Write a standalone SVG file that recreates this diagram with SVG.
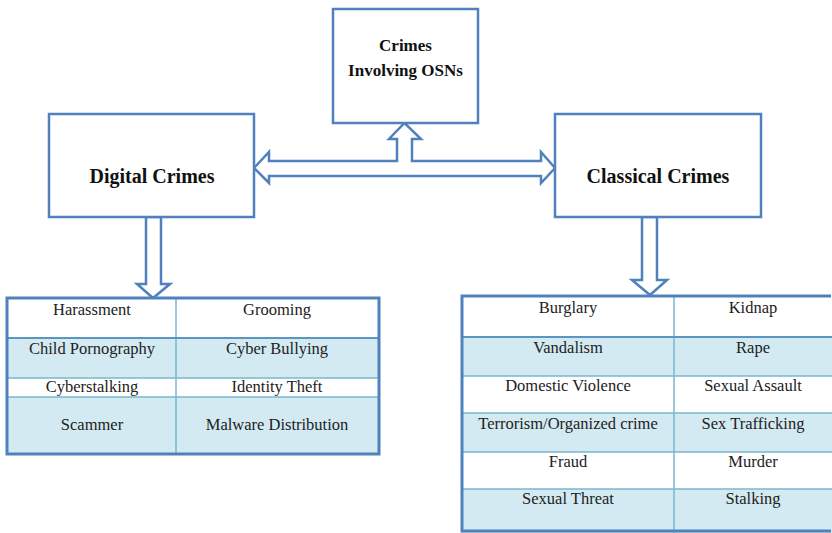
<svg xmlns="http://www.w3.org/2000/svg" width="832" height="533" viewBox="0 0 832 533">
<style>
.box{fill:#fff;stroke:#4f81bd;stroke-width:2.5}
.arr{fill:#fff;stroke:#4f81bd;stroke-width:2.5;stroke-linejoin:miter}
.ttl{font-family:"Liberation Serif","Times New Roman",serif;font-weight:bold;fill:#111;text-anchor:middle}
.cell{font-family:"Liberation Serif","Times New Roman",serif;font-size:16.5px;fill:#222;text-anchor:middle}
.blue{fill:#d3eaf2}
.white{fill:#fff}
.grid{stroke:#7ab8cf;stroke-width:1.5;fill:none}
.outer{fill:none;stroke:#4f81bd;stroke-width:3}
.hdr{fill:none;stroke:#5b95c0;stroke-width:2}
</style>
<rect width="832" height="533" fill="#fff"/>
<g id="connectors">
<polygon class="arr" points="254,168 269,152 269,161 397,161 397,139 389,139 404.5,123 421,139 412,139 412,161 541,161 541,152 555,168 541,183 541,176 269,176 269,183"/>
<polygon class="arr" points="146,217 161,217 161,284 170,284 153,298 137,284 146,284"/>
<polygon class="arr" points="642,217 657,217 657,280 667,280 650,295 632,280 642,280"/>
</g>
<g id="osn">
<rect class="box" x="333" y="9" width="145" height="114"/>
<text class="ttl" x="405.5" y="51" font-size="17">Crimes</text>
<text class="ttl" x="405.5" y="76" font-size="17">Involving OSNs</text>
</g>
<g id="digital">
<rect class="box" x="49" y="114" width="205" height="103"/>
<text class="ttl" x="152" y="183" font-size="20">Digital Crimes</text>
</g>
<g id="classical">
<rect class="box" x="555" y="114" width="206" height="103"/>
<text class="ttl" x="658" y="183" font-size="20">Classical Crimes</text>
</g>
<g id="digital-table">
<rect class="white" x="7" y="298" width="372" height="40"/>
<rect class="blue" x="7" y="338" width="372" height="40"/>
<rect class="white" x="7" y="378" width="372" height="19"/>
<rect class="blue" x="7" y="397" width="372" height="57"/>
<path class="grid" d="M7,378H379M7,397H379M176,298V454"/>
<path class="hdr" d="M7,338H379"/>
<rect class="outer" x="7" y="298" width="372" height="156"/>
<text class="cell" x="92" y="315">Harassment</text>
<text class="cell" x="277" y="315">Grooming</text>
<text class="cell" x="92" y="354">Child Pornography</text>
<text class="cell" x="277" y="354">Cyber Bullying</text>
<text class="cell" x="92" y="392">Cyberstalking</text>
<text class="cell" x="277" y="392">Identity Theft</text>
<text class="cell" x="92" y="430">Scammer</text>
<text class="cell" x="277" y="430">Malware Distribution</text>
</g>
<g id="classical-table">
<rect class="white" x="462" y="296" width="372" height="41"/>
<rect class="blue" x="462" y="337" width="372" height="39"/>
<rect class="white" x="462" y="376" width="372" height="37"/>
<rect class="blue" x="462" y="413" width="372" height="39"/>
<rect class="white" x="462" y="452" width="372" height="37"/>
<rect class="blue" x="462" y="489" width="372" height="44"/>
<path class="grid" d="M462,376H834M462,413H834M462,452H834M462,489H834M674,296V533"/>
<path class="hdr" d="M462,337H834"/>
<path class="outer" d="M831,296H462V531H831"/>
<text class="cell" x="568" y="313">Burglary</text>
<text class="cell" x="753" y="313">Kidnap</text>
<text class="cell" x="568" y="353">Vandalism</text>
<text class="cell" x="753" y="353">Rape</text>
<text class="cell" x="568" y="391">Domestic Violence</text>
<text class="cell" x="753" y="391">Sexual Assault</text>
<text class="cell" x="568" y="429">Terrorism/Organized crime</text>
<text class="cell" x="753" y="429">Sex Trafficking</text>
<text class="cell" x="568" y="467">Fraud</text>
<text class="cell" x="753" y="467">Murder</text>
<text class="cell" x="568" y="504">Sexual Threat</text>
<text class="cell" x="753" y="504">Stalking</text>
</g>
</svg>
